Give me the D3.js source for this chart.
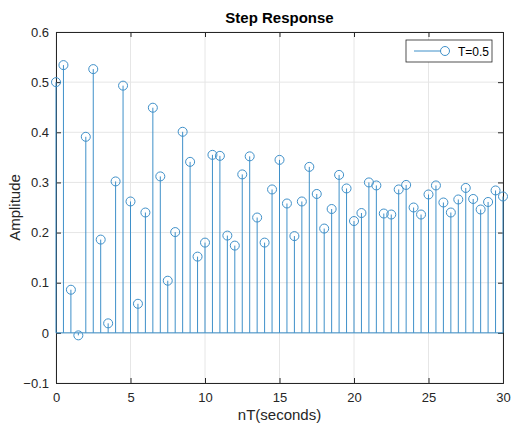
<!DOCTYPE html>
<html>
<head>
<meta charset="utf-8">
<script src="https://cdn.jsdelivr.net/npm/d3@7"></script>
<style>
  body { margin: 0; background: #fff; }
  svg { font-family: "Liberation Sans", Arial, sans-serif; }
</style>
</head>
<body>
<div id="chart"></div>
<script>
// sample times nT, T = 0.5
const times = d3.range(0, 30.001, 0.5);
const amplitude = [
  0.500, 0.534, 0.086, -0.005, 0.391, 0.526, 0.186, 0.019, 0.302, 0.493,
  0.262, 0.058, 0.240, 0.449, 0.312, 0.104, 0.201, 0.401, 0.341, 0.152,
  0.180, 0.355, 0.353, 0.194, 0.174, 0.316, 0.352, 0.230, 0.180, 0.286,
  0.345, 0.258, 0.193, 0.262, 0.331, 0.277, 0.208, 0.247, 0.315, 0.288,
  0.223, 0.239, 0.300, 0.294, 0.238, 0.236, 0.286, 0.295, 0.250, 0.236,
  0.276, 0.294, 0.260, 0.240, 0.266, 0.289, 0.267, 0.246, 0.261, 0.284,
  0.272
];
const xTicks = [0, 5, 10, 15, 20, 25, 30];
const yTicks = [-0.1, 0, 0.1, 0.2, 0.3, 0.4, 0.5, 0.6];
const seriesName = "T=0.5";

const data = times.map((t, i) => ({ t, v: amplitude[i] }));

const width = 511, height = 429;
const margin = { top: 32, right: 8, bottom: 46, left: 56 };
const innerW = width - margin.left - margin.right;
const innerH = height - margin.top - margin.bottom;
const blue = "#3f90c9";

const svg = d3.select("#chart").append("svg")
  .attr("width", width).attr("height", height);

const g = svg.append("g")
  .attr("transform", `translate(${margin.left},${margin.top})`);

const x = d3.scaleLinear().domain([0, 30]).range([0, innerW]);
const y = d3.scaleLinear().domain([-0.1, 0.6]).range([innerH, 0]);

// grid
g.append("g").selectAll("line").data(xTicks).enter().append("line")
  .attr("x1", d => x(d)).attr("x2", d => x(d))
  .attr("y1", 0).attr("y2", innerH)
  .attr("stroke", "#e6e6e6").attr("stroke-width", 1);
g.append("g").selectAll("line").data(yTicks).enter().append("line")
  .attr("x1", 0).attr("x2", innerW)
  .attr("y1", d => y(d)).attr("y2", d => y(d))
  .attr("stroke", "#e6e6e6").attr("stroke-width", 1);

// axes, ticks pointing inwards
const axisColor = "#262626";
const xb = g.append("g").attr("transform", `translate(0,${innerH})`)
  .call(d3.axisBottom(x).tickValues(xTicks).tickSize(-5).tickPadding(10).tickFormat(d3.format("d")));
const xt = g.append("g")
  .call(d3.axisTop(x).tickValues(xTicks).tickSize(-5).tickFormat(""));
const yl = g.append("g")
  .call(d3.axisLeft(y).tickValues(yTicks).tickSize(-5).tickPadding(7).tickFormat(d => d === 0 ? "0" : d3.format(".1f")(d)));
const yr = g.append("g").attr("transform", `translate(${innerW},0)`)
  .call(d3.axisRight(y).tickValues(yTicks).tickSize(-5).tickFormat(""));

[xb, xt, yl, yr].forEach(a => {
  a.select(".domain").attr("stroke", axisColor);
  a.selectAll(".tick line").attr("stroke", axisColor);
  a.selectAll("text").attr("fill", axisColor).style("font-size", "13px");
});

// baseline at zero
g.append("line")
  .attr("x1", 0).attr("x2", innerW)
  .attr("y1", y(0)).attr("y2", y(0))
  .attr("stroke", blue).attr("stroke-width", 1);

// stems
g.append("g").selectAll("line").data(data).enter().append("line")
  .attr("x1", d => x(d.t)).attr("x2", d => x(d.t))
  .attr("y1", y(0)).attr("y2", d => y(d.v))
  .attr("stroke", blue).attr("stroke-width", 1);

// markers
g.append("g").selectAll("circle").data(data).enter().append("circle")
  .attr("cx", d => x(d.t)).attr("cy", d => y(d.v))
  .attr("r", 4.5)
  .attr("fill", "none")
  .attr("stroke", blue).attr("stroke-width", 1);

// legend
const leg = g.append("g").attr("transform", `translate(${innerW - 97},8)`);
leg.append("rect").attr("width", 86).attr("height", 22)
  .attr("fill", "#fff").attr("stroke", "#262626").attr("stroke-width", 0.8);
leg.append("line").attr("x1", 8).attr("x2", 39).attr("y1", 11).attr("y2", 11)
  .attr("stroke", blue);
leg.append("circle").attr("cx", 39).attr("cy", 11).attr("r", 4.5)
  .attr("fill", "#fff").attr("stroke", blue);
leg.append("text").attr("x", 52).attr("y", 15.5)
  .style("font-size", "12px").attr("fill", "#000").text(seriesName);

// title and labels
svg.append("text")
  .attr("x", margin.left + innerW / 2).attr("y", 23)
  .attr("text-anchor", "middle")
  .style("font-size", "15px").style("font-weight", "bold")
  .attr("fill", "#000")
  .text("Step Response");

svg.append("text")
  .attr("x", margin.left + innerW / 2).attr("y", 420)
  .attr("text-anchor", "middle")
  .style("font-size", "15px").attr("fill", "#262626")
  .text("nT(seconds)");

svg.append("text")
  .attr("transform", `translate(20,${margin.top + innerH / 2}) rotate(-90)`)
  .attr("text-anchor", "middle")
  .style("font-size", "15px").attr("fill", "#262626")
  .text("Amplitude");
</script>
</body>
</html>
